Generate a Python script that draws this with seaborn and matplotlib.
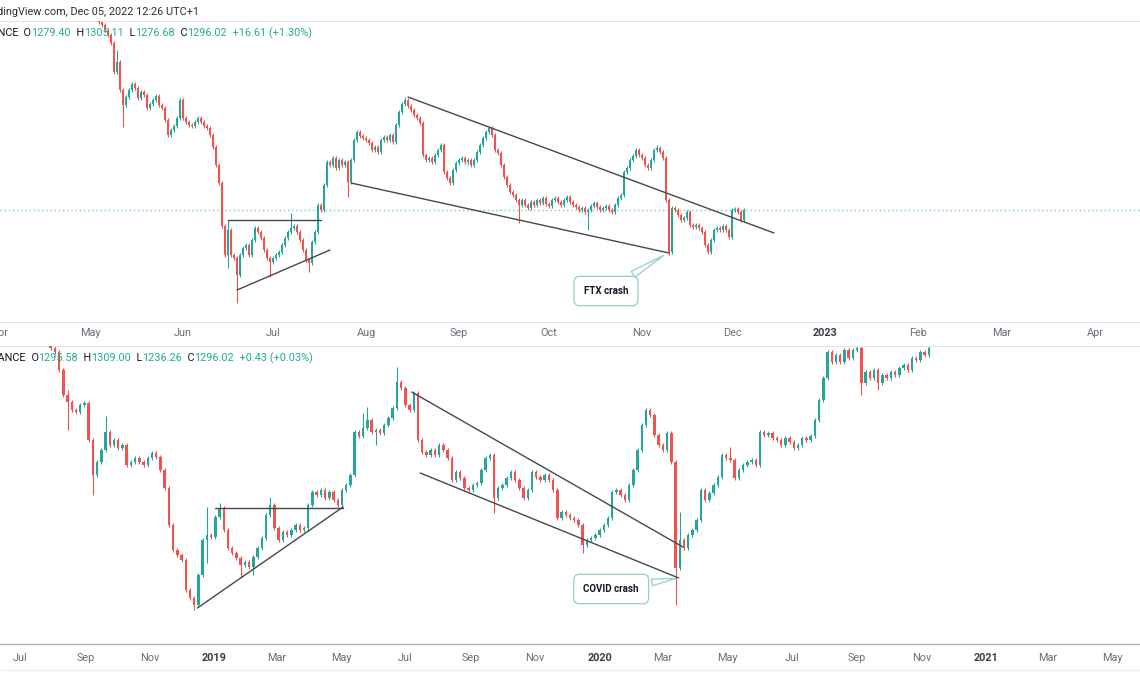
import numpy as np
import pandas as pd
import matplotlib
matplotlib.use("Agg")
import matplotlib.pyplot as plt
import matplotlib.dates as mdates
from matplotlib.lines import Line2D
import seaborn as sns

sns.set_theme(style="white")
plt.rcParams["font.family"] = ["Roboto", "DejaVu Sans"]

UP = "#26a69a"
DOWN = "#ef5350"
DARK = "#131722"
TEAL = "#22ab94"

# ---- top panel : ETHUSDT daily, 29 Apr 2022 -> 5 Dec 2022
top_start = "2022-04-29"
top_open0 = 2330
top_close = [
    2325, 2310, 2290, 2260, 2275, 2240, 2225, 2200, 2175, 2135,
    1990, 2040, 1900, 1825, 1865, 1900, 1930, 1910, 1860, 1890,
    1875, 1810, 1830, 1850, 1870, 1825, 1810, 1750, 1675, 1700,
    1720, 1760, 1850, 1760, 1740, 1725, 1720, 1740, 1760, 1740,
    1720, 1710, 1675, 1615, 1525, 1435, 1220, 1075, 1200, 1075,
    1060, 975, 1075, 1110, 1125, 1075, 1150, 1210, 1190, 1160,
    1100, 1060, 1040, 1060, 1075, 1090, 1125, 1160, 1190, 1210,
    1220, 1190, 1150, 1100, 1050, 1035, 1140, 1190, 1325, 1300,
    1425, 1540, 1525, 1560, 1510, 1550, 1525, 1540, 1440, 1550,
    1650, 1690, 1670, 1660, 1650, 1635, 1600, 1615, 1590, 1650,
    1665, 1650, 1675, 1640, 1725, 1790, 1830, 1850, 1820, 1800,
    1775, 1760, 1735, 1575, 1550, 1560, 1540, 1575, 1600, 1625,
    1490, 1460, 1435, 1500, 1535, 1550, 1560, 1540, 1550, 1525,
    1550, 1590, 1625, 1660, 1690, 1710, 1675, 1600, 1585, 1525,
    1465, 1425, 1390, 1375, 1350, 1325, 1350, 1325, 1310, 1340,
    1325, 1350, 1335, 1360, 1330, 1320, 1350, 1360, 1340, 1325,
    1350, 1365, 1340, 1325, 1315, 1300, 1310, 1290, 1300, 1320,
    1335, 1315, 1300, 1310, 1320, 1300, 1290, 1325, 1360, 1375,
    1490, 1510, 1550, 1570, 1600, 1575, 1560, 1525, 1510, 1550,
    1600, 1610, 1590, 1560, 1350, 1090, 1310, 1300, 1275, 1250,
    1260, 1290, 1225, 1215, 1225, 1210, 1190, 1125, 1090, 1150,
    1200, 1210, 1200, 1220, 1200, 1165, 1300, 1305, 1290, 1250,
    1300,
]
top_high_marks = {11: 2100, 48: 1250, 69: 1285, 107: 1865, 191: 1625}
top_low_marks = {13: 1715, 48: 1010, 51: 835, 62: 965, 75: 990, 88: 1365,
                 145: 1235, 168: 1200, 195: 1075}
top_last = 1300

top_tick_months = pd.date_range("2022-04-01", "2023-04-01", freq="MS")
top_line_id = ["flat", "flat", "rise", "rise", "low", "low", "high", "high"]
top_line_date = ["2022-06-16", "2022-07-17", "2022-06-19", "2022-07-20",
                 "2022-07-27", "2022-11-10", "2022-08-15", "2022-12-15"]
top_line_price = [1250, 1250, 900, 1100, 1435, 1085, 1865, 1185]

# ---- bottom panel : 4-day candles, Jul 2018 -> Nov 2020
bot_start = "2018-07-22"
bot_open0 = 1870
bot_close = [
    1850, 1810, 1760, 1740, 1650, 1525, 1490, 1450, 1440, 1475,
    1485, 1300, 1125, 1190, 1250, 1340, 1275, 1300, 1260, 1275,
    1175, 1190, 1210, 1190, 1175, 1210, 1235, 1215, 1150, 1060,
    875, 750, 725, 700, 550, 510, 475, 625, 800, 825,
    815, 915, 960, 850, 760, 735, 710, 675, 690, 665,
    715, 760, 810, 925, 975, 860, 800, 840, 825, 850,
    875, 850, 860, 975, 1040, 1025, 1050, 1010, 1040, 1000,
    975, 1050, 1075, 1125, 1340, 1320, 1360, 1400, 1340, 1350,
    1335, 1375, 1410, 1460, 1590, 1560, 1475, 1450, 1535, 1300,
    1240, 1225, 1250, 1225, 1275, 1250, 1210, 1100, 1140, 1110,
    1060, 1050, 1075, 1085, 1150, 1210, 1225, 1010, 1060, 1075,
    1110, 1140, 1100, 1060, 1010, 1050, 1140, 1115, 1100, 1125,
    1100, 1050, 910, 940, 925, 910, 900, 875, 775, 800,
    810, 825, 850, 875, 910, 1040, 1050, 1025, 1000, 1075,
    1150, 1250, 1375, 1450, 1425, 1325, 1275, 1250, 1335, 1190,
    660, 800, 760, 825, 850, 900, 1050, 1000, 1035, 1075,
    1115, 1225, 1210, 1200, 1110, 1150, 1175, 1190, 1200, 1175,
    1340, 1325, 1335, 1310, 1300, 1275, 1310, 1290, 1260, 1275,
    1310, 1300, 1320, 1400, 1500, 1610, 1740, 1690, 1725, 1690,
    1750, 1710, 1750, 1760, 1585, 1640, 1610, 1650, 1585, 1625,
    1610, 1640, 1625, 1660, 1675, 1650, 1710, 1700, 1740, 1725,
    1760,
]
bot_high_marks = {6: 1550, 15: 1420, 39: 965, 42: 985, 54: 1015, 76: 1435,
                  77: 1465, 84: 1665, 151: 940, 163: 1265}
bot_low_marks = {6: 1350, 12: 1025, 36: 450, 39: 685, 47: 615, 50: 625,
                 79: 1275, 107: 935, 128: 735, 150: 475, 194: 1525, 198: 1550}

bot_tick_months = pd.date_range("2018-07-01", "2021-05-01", freq="2MS")
bot_line_id = ["flat", "flat", "rise", "rise", "high", "high", "low", "low"]
bot_line_date = ["2019-01-02", "2019-05-03", "2018-12-16", "2019-05-03",
                 "2019-07-07", "2020-03-20", "2019-07-15", "2020-03-16"]
bot_line_price = [960, 960, 460, 965, 1540, 765, 1135, 610]


def draw_candles(ax, dates, open0, close, hi_marks, lo_marks, width, wick):
    close = np.array(close, float)
    opn = np.r_[open0, close[:-1]]
    hi = np.maximum(opn, close) + wick
    lo = np.minimum(opn, close) - wick
    for i, v in hi_marks.items():
        hi[i] = v
    for i, v in lo_marks.items():
        lo[i] = v
    colors = np.where(close >= opn, UP, DOWN)
    x = mdates.date2num(dates)
    ax.vlines(x, lo, hi, colors=colors, lw=0.8, zorder=2)
    body = np.where(np.abs(close - opn) < 3, 3, close - opn)
    ax.bar(x, body, bottom=opn, width=width, color=colors, lw=0, zorder=3)


def draw_lines(ax, ids, dates, prices):
    df = pd.DataFrame({"line": ids, "date": mdates.date2num(pd.to_datetime(dates)),
                       "price": prices})
    sns.lineplot(data=df, x="date", y="price", units="line", estimator=None,
                 color="#45474f", lw=1.0, ax=ax, legend=False, zorder=4)


def month_labels(months, every_year_bold=True):
    labels = []
    for m in months:
        labels.append(str(m.year) if m.month == 1 else m.strftime("%b"))
    return labels


def style_axis(ax, months, pad, bottom_color):
    ax.set_xticks(mdates.date2num(months))
    labels = month_labels(months)
    ax.set_xticklabels(labels)
    for t, lab in zip(ax.get_xticklabels(), labels):
        t.set_fontsize(7.8)
        if lab.isdigit():
            t.set_fontweight("bold")
            t.set_color("#3a3d46")
        else:
            t.set_color("#6a6d78")
    ax.tick_params(axis="x", length=0, pad=pad)
    ax.set_yticks([])
    ax.set_xlabel("")
    ax.set_ylabel("")
    for s in ["left", "right"]:
        ax.spines[s].set_visible(False)
    ax.spines["top"].set_color("#e0e3eb")
    ax.spines["bottom"].set_color(bottom_color)
    ax.spines["top"].set_linewidth(0.8)
    ax.spines["bottom"].set_linewidth(0.9)


fig = plt.figure(figsize=(11.4, 6.94), dpi=100)
H = 694.0
ax_top = fig.add_axes([0, (H - 322) / H, 1, 301 / H])
ax_bot = fig.add_axes([0, (H - 644) / H, 1, 298 / H])

# top panel
top_dates = pd.date_range(top_start, periods=len(top_close), freq="D")
draw_candles(ax_top, top_dates, top_open0, top_close, top_high_marks,
             top_low_marks, 0.7, 10)
draw_lines(ax_top, top_line_id, top_line_date, top_line_price)
ax_top.axhline(top_last, color="#7fc6be", ls=(0, (1, 2)), lw=1.0, zorder=1)
ax_top.set_xlim(mdates.date2num(pd.Timestamp("2022-04-01")),
                mdates.date2num(pd.Timestamp("2023-04-16")))
ax_top.set_ylim(740, 2245)
style_axis(ax_top, top_tick_months, 4, "#e0e3eb")

callout = dict(ha="center", va="center", fontsize=7, fontweight="bold", color=DARK,
               bbox=dict(boxstyle="round,pad=1.0,rounding_size=0.6", fc="white",
                         ec="#8fcfc8", lw=0.9),
               arrowprops=dict(arrowstyle="wedge,tail_width=0.7,shrink_factor=0.5",
                               fc="white", ec="#8fcfc8", lw=0.9))
ax_top.annotate("FTX crash", xy=(mdates.date2num(pd.Timestamp("2022-11-09")), 1080),
                xytext=(mdates.date2num(pd.Timestamp("2022-10-20")), 895), **callout)

# bottom panel
bot_dates = pd.date_range(bot_start, periods=len(bot_close), freq="4D")
draw_candles(ax_bot, bot_dates, bot_open0, bot_close, bot_high_marks,
             bot_low_marks, 2.4, 12)
draw_lines(ax_bot, bot_line_id, bot_line_date, bot_line_price)
ax_bot.set_xlim(mdates.date2num(pd.Timestamp("2018-06-12")),
                mdates.date2num(pd.Timestamp("2021-05-27")))
ax_bot.set_ylim(280, 1770)
style_axis(ax_bot, bot_tick_months, 6.5, "#a9abb3")
ax_bot.annotate("COVID crash", xy=(mdates.date2num(pd.Timestamp("2020-03-16")), 610),
                xytext=(mdates.date2num(pd.Timestamp("2020-01-12")), 555), **callout)

fig.add_artist(Line2D([0, 1], [24 / H, 24 / H], color="#eceef2", lw=0.8))


# header and OHLC legends
def chain_text(parts, x_px, y_px, size=7.8):
    renderer = fig.canvas.get_renderer()
    x = x_px
    for txt, col in parts:
        t = fig.text(x / 1140, 1 - y_px / H, txt, color=col, fontsize=size,
                     va="center", ha="left")
        bb = t.get_window_extent(renderer=renderer)
        x += bb.width


chain_text([("TradingView.com, Dec 05, 2022 12:26 UTC+1", "#2a2e39")], -19, 12)
chain_text([("BINANCE", DARK), ("  O", DARK), ("1279.40", TEAL), ("  H", DARK),
            ("1305.11", TEAL), ("  L", DARK), ("1276.68", TEAL), ("  C", DARK),
            ("1296.02", TEAL), ("  +16.61 (+1.30%)", TEAL)], -27, 33)
chain_text([("BINANCE", DARK), ("  O", DARK), ("1295.58", TEAL), ("  H", DARK),
            ("1309.00", TEAL), ("  L", DARK), ("1236.26", TEAL), ("  C", DARK),
            ("1296.02", TEAL), ("  +0.43 (+0.03%)", TEAL)], -20, 358)

fig.savefig("out.png", dpi=100)
